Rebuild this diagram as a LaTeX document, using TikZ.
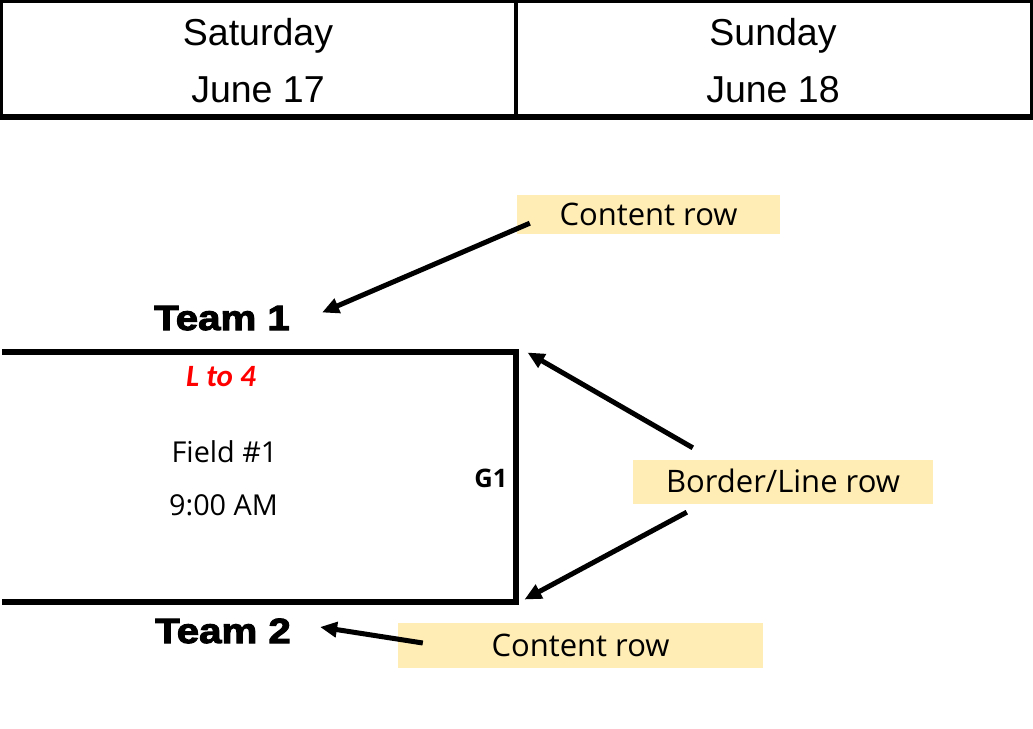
\documentclass[tikz,border=0pt]{standalone}
\usepackage{fontspec}
\setmainfont{Liberation Sans}
\newfontfamily\segoe{Open Sans}
\newfontfamily\teamfont[FakeBold=3,FakeStretch=1.15]{Liberation Sans Bold}
\newfontfamily\calibri{Carlito}
\usetikzlibrary{arrows.meta}
\definecolor{notefill}{RGB}{255,237,181}
\definecolor{tred}{RGB}{255,0,0}
\begin{document}
\begin{tikzpicture}[x=1pt,y=-1pt,
  hdr/.style={inner sep=0pt,anchor=base,font=\fontsize{37.5}{40}\selectfont},
  team/.style={inner sep=0pt,anchor=base,text height=25pt,text depth=0pt,font=\teamfont\fontsize{35}{38}\selectfont},
  cell/.style={inner sep=0pt,anchor=base,font=\segoe\fontsize{28.8}{30}\selectfont},
  note/.style={fill=notefill,inner sep=0pt,text height=21pt,text depth=0pt,font=\segoe\fontsize{31}{33}\selectfont},
  arr/.style={line width=5pt,-{Triangle[length=17pt,width=15pt]}},
  rule/.style={line width=6pt,line join=miter}]
\useasboundingbox (0,0) rectangle (1033,728);
% header table
\draw[line width=3pt] (1.5,1.5) rectangle (1031.5,117);
\draw[line width=5.5pt] (0,117) -- (1033,117);
\draw[line width=4pt] (516,1.5) -- (516,117);
\node[hdr] (sat) at (258,45) {Saturday};
\node[hdr] (satd) at (258,102) {June 17};
\node[hdr] (sun) at (773,45) {Sunday};
\node[hdr] (sund) at (773,102) {June 18};
% bracket
\coordinate (tl) at (2,351.5);
\coordinate (tr) at (515.5,351.5);
\coordinate (br) at (515.5,601.5);
\coordinate (bl) at (2,601.5);
\draw[rule] (tl) -- (tr) -- (br) -- (bl);
\node[team] (t1) at (222,330) {Team 1};
\node[team] (t2) at (223,643) {Team 2};
\node[inner sep=0pt,anchor=base,text=tred,font=\calibri\bfseries\itshape\fontsize{31}{33}\selectfont] (lto) at (221,386) {L to 4};
\node[cell] (field) at (224.5,462) {Field \#1};
\node[cell] (time) at (223.5,515) {9:00 AM};
\node[inner sep=0pt,anchor=base,font=\segoe\bfseries\fontsize{25.5}{27}\selectfont] (g1) at (491,487.5) {G1};
% notes
\node[note,minimum width=263pt,minimum height=39pt] (c1) at (648.5,214.5) {Content row};
\node[note,minimum width=300pt,minimum height=44pt] (b1) at (783,482) {Border/Line row};
\node[note,minimum width=365pt,minimum height=45pt] (c2) at (580.5,645.5) {Content row};
% arrows
\draw[arr] ([shift={(13,-11)}]c1.south west) -- ([shift={(32,-5)}]t1.east);
\draw[arr] ([shift={(60,-12)}]b1.north west) -- ([shift={(12,1)}]tr);
\draw[arr] ([shift={(54,8)}]b1.south west) -- ([shift={(9,-2)}]br);
\draw[arr] ([shift={(25,-2.5)}]c2.west) -- ([shift={(29,-3.5)}]t2.east);
\end{tikzpicture}
\end{document}
